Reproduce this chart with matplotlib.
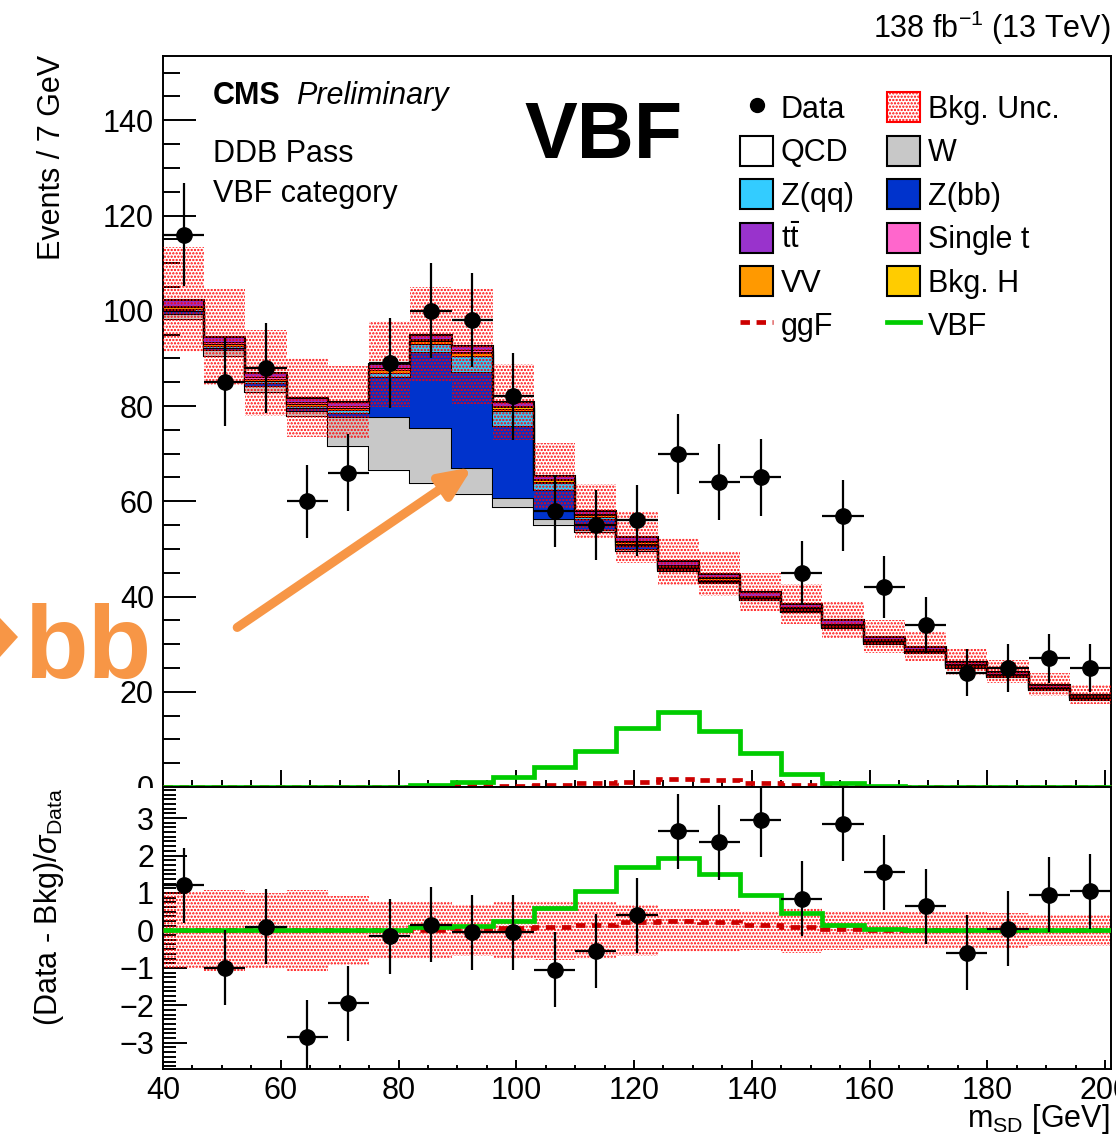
import numpy as np
import matplotlib
matplotlib.use('Agg')
import matplotlib.pyplot as plt
from matplotlib.patches import Patch, Polygon, Rectangle
from matplotlib.lines import Line2D
from matplotlib.ticker import MultipleLocator

plt.rcParams['font.family'] = ['Liberation Sans', 'DejaVu Sans']
plt.rcParams['mathtext.fontset'] = 'custom'
plt.rcParams['mathtext.rm'] = 'Liberation Sans'
plt.rcParams['mathtext.it'] = 'Liberation Sans:italic'
plt.rcParams['mathtext.bf'] = 'Liberation Sans:bold'
plt.rcParams['hatch.linewidth'] = 1.1

# %% binning: 7 GeV bins from 40 to 201
edges = np.arange(40, 202, 7)
centers = edges[:-1] + 3.5

# observed events and their errors
data = [116, 85, 88, 60, 66, 89, 100, 98, 82, 58, 55, 56, 70, 64, 65, 45, 57, 42, 34, 24, 25, 27, 25]
data_err = [10.8, 9.2, 9.4, 7.7, 8.1, 9.4, 10.0, 9.9, 9.1, 7.6, 7.4, 7.5, 8.4, 8.0, 8.1, 6.7, 7.5, 6.5, 5.8, 4.9, 5.0, 5.2, 5.0]

# background components
qcd = [98.2, 90.5, 83.0, 78.0, 71.6, 66.6, 63.8, 61.5, 58.7, 55.0, 53.5, 49.6, 45.3, 42.9, 39.2, 36.7, 33.4, 30.1, 28.2, 25.0, 23.0, 20.3, 18.3]
wjets = [1.2, 1.2, 1.2, 1.0, 6.1, 11.1, 11.6, 5.5, 1.9, 1.3, 0.5, 0.3, 0.2, 0.1, 0.1, 0.1, 0.1, 0.1, 0.1, 0.1, 0.1, 0.1, 0.1]
zbb = [0.5, 0.5, 0.6, 0.6, 0.9, 8.3, 15.9, 20.2, 15.2, 6.0, 2.3, 0.8, 0.2, 0.2, 0.2, 0.2, 0.2, 0.2, 0.2, 0.2, 0.2, 0.2, 0.2]
zqq = [0.5, 0.5, 0.5, 0.5, 0.5, 1.0, 1.7, 3.4, 3.1, 1.5, 0.3, 0.2, 0.2, 0.2, 0.2, 0.2, 0.2, 0.2, 0.2, 0.2, 0.2, 0.2, 0.2]
ttbar = [1.2, 1.1, 1.0, 0.9, 0.9, 0.9, 0.9, 0.8, 0.8, 0.7, 0.7, 0.8, 0.8, 0.8, 0.8, 0.8, 0.7, 0.6, 0.5, 0.5, 0.4, 0.4, 0.3]
singlet = [0.3, 0.3, 0.3, 0.3, 0.3, 0.3, 0.3, 0.3, 0.3, 0.2, 0.2, 0.2, 0.2, 0.2, 0.2, 0.2, 0.2, 0.2, 0.1, 0.1, 0.1, 0.1, 0.1]
vv = [0.3, 0.3, 0.3, 0.3, 0.4, 0.5, 0.6, 0.6, 0.5, 0.3, 0.2, 0.2, 0.2, 0.1, 0.1, 0.1, 0.1, 0.1, 0.1, 0.1, 0.1, 0.1, 0.1]
bkg_h = [0.1, 0.1, 0.1, 0.1, 0.1, 0.1, 0.2, 0.2, 0.3, 0.3, 0.3, 0.3, 0.3, 0.3, 0.2, 0.2, 0.1, 0.1, 0.1, 0.1, 0.1, 0.1, 0.1]
bkg_unc = [11, 10, 9, 8.3, 7.5, 9, 10, 12, 8, 7, 5.7, 5.3, 4.9, 4.6, 4.0, 4.2, 3.8, 3.4, 3.1, 2.7, 2.4, 2.4, 2.0]

# signals
vbf = [0, 0, 0, 0, 0, 0, 0.35, 1.0, 2.0, 4.3, 7.6, 12.4, 15.8, 11.8, 7.2, 2.7, 0.8, 0.3, 0.1, 0.05, 0.05, 0.05, 0.05]
ggf = [0, 0, 0, 0, 0, 0, 0.1, 0.2, 0.3, 0.4, 0.8, 1.1, 1.6, 1.4, 0.8, 0.35, 0.15, 0.05, 0.05, 0, 0, 0, 0]

# pull panel
pulls = [1.2, -1.0, 0.1, -2.85, -1.95, -0.15, 0.15, -0.05, -0.05, -1.05, -0.55, 0.4, 2.65, 2.35, 2.95, 0.85, 2.85, 1.55, 0.65, -0.6, 0.05, 0.95, 1.05]
pull_unc = [1.02, 1.07, 1.0, 1.07, 0.92, 0.77, 0.75, 0.68, 0.77, 0.78, 0.75, 0.69, 0.58, 0.57, 0.52, 0.6, 0.52, 0.5, 0.5, 0.48, 0.46, 0.42, 0.42]
vbf_pull = [0, 0, 0, 0, 0, 0, 0.08, 0.12, 0.24, 0.6, 1.05, 1.7, 1.93, 1.5, 0.94, 0.47, 0.14, 0.05, 0.02, 0.02, 0.02, 0.02, 0.02]
ggf_pull = [0, 0, 0, 0, 0, 0, 0.02, 0.05, 0.07, 0.1, 0.14, 0.22, 0.25, 0.22, 0.15, 0.08, 0.04, 0.02, 0.01, 0, 0, 0, 0]

c_green = '#00cc00'
c_ggf = '#cc0000'
c_orange = '#f79646'
unc_hatch = '.....'
ggf_ls = (0, (2, 1.4))

W, H = 1116, 1138
fig = plt.figure(figsize=(W / 100, H / 100), dpi=100)


def fx(px):
    return px / W


def fy(py):
    return 1 - py / H


ax = fig.add_axes([fx(163), fy(787), fx(1111) - fx(163), fy(56) - fy(787)])
ax2 = fig.add_axes([fx(163), fy(1069), fx(1111) - fx(163), fy(787) - fy(1069)])

# %% stacked backgrounds
layers = [
    (qcd, 'white'),
    (wjets, '#c8c8c8'),
    (zbb, '#0033cc'),
    (zqq, '#33ccff'),
    (vv, '#ff9900'),
    (bkg_h, '#ffcc00'),
    (singlet, '#ff66cc'),
    (ttbar, '#9933cc'),
]
bottom = np.zeros(len(centers))
for vals, col in layers:
    top = bottom + np.array(vals)
    ax.stairs(top, edges, baseline=bottom, fill=True, facecolor=col, lw=0)
    ax.stairs(top, edges, baseline=None, color='black', lw=1.5)
    bottom = top
total = bottom

unc = np.array(bkg_unc)
ax.stairs(total + unc, edges, baseline=total - unc, fill=True, facecolor='none',
          edgecolor='red', hatch=unc_hatch, lw=0, zorder=3)

ax.stairs(ggf, edges, baseline=None, color=c_ggf, lw=3.4, ls=ggf_ls, clip_on=False, zorder=4)
ax.stairs(vbf, edges, baseline=None, color=c_green, lw=3.4, clip_on=False, zorder=4.5)

ax.errorbar(centers, data, yerr=data_err, xerr=3.5, fmt='o', color='black', ms=11,
            elinewidth=1.6, capsize=0, zorder=10)

ax.annotate('', xy=(92.6, 67.2), xytext=(52.6, 33.5),
            arrowprops=dict(arrowstyle='-|>,head_length=0.75,head_width=0.33', color=c_orange,
                            lw=6.5, mutation_scale=25, shrinkA=0, shrinkB=0), zorder=20)

ax.set_xlim(40, 201)
ax.set_ylim(0, 153.5)
ax.xaxis.set_major_locator(MultipleLocator(20))
ax.xaxis.set_minor_locator(MultipleLocator(5))
ax.yaxis.set_major_locator(MultipleLocator(20))
ax.yaxis.set_minor_locator(MultipleLocator(5))
ax.tick_params(axis='y', which='major', direction='in', length=24, width=1.4, labelsize=22, pad=6.5)
ax.tick_params(axis='y', which='minor', direction='in', length=12, width=1.4)
ax.tick_params(axis='x', which='major', direction='in', length=12, width=1.4, labelbottom=False)
ax.tick_params(axis='x', which='minor', direction='in', length=5, width=1.4)

# %% pull panel
punc = np.array(pull_unc)
ax2.stairs(punc, edges, baseline=-punc, fill=True, facecolor='none',
           edgecolor='red', hatch=unc_hatch, lw=0, zorder=2)
ax2.stairs(ggf_pull, edges, baseline=None, color=c_ggf, lw=3.4, ls=ggf_ls, zorder=4)
ax2.stairs(vbf_pull, edges, baseline=None, color=c_green, lw=3.4, zorder=4.5)
ax2.errorbar(centers, pulls, yerr=1, xerr=3.5, fmt='o', color='black', ms=11,
             elinewidth=1.6, capsize=0, zorder=10)

ax2.set_xlim(40, 201)
ax2.set_ylim(-3.7, 3.83)
ax2.xaxis.set_major_locator(MultipleLocator(20))
ax2.xaxis.set_minor_locator(MultipleLocator(5))
ax2.yaxis.set_major_locator(MultipleLocator(1))
ax2.yaxis.set_minor_locator(MultipleLocator(0.125))
ax2.tick_params(axis='y', which='major', direction='in', length=17, width=1.4, labelsize=22, pad=6.5)
ax2.tick_params(axis='y', which='minor', direction='in', length=9, width=1.4)
ax2.tick_params(axis='x', which='major', direction='in', length=6.5, width=1.4, labelsize=22, pad=5)
ax2.tick_params(axis='x', which='minor', direction='in', length=3, width=1.4)

for a in (ax, ax2):
    for sp in a.spines.values():
        sp.set_linewidth(1.4)

# lower half of the upper "0" label sits under the pull pad
fig.patches.append(Rectangle((fx(95), fy(805)), fx(160) - fx(95), fy(787.5) - fy(805),
                             transform=fig.transFigure, facecolor='white', edgecolor='none', zorder=0.5))

# %% legend
handles = [
    Line2D([], [], marker='o', color='black', ls='none', ms=10),
    Patch(facecolor='white', edgecolor='black', lw=1.5),
    Patch(facecolor='#33ccff', edgecolor='black', lw=1.5),
    Patch(facecolor='#9933cc', edgecolor='black', lw=1.5),
    Patch(facecolor='#ff9900', edgecolor='black', lw=1.5),
    Line2D([], [], color=c_ggf, lw=3.4, ls=ggf_ls),
    Patch(facecolor='none', edgecolor='red', hatch=unc_hatch, lw=1.5),
    Patch(facecolor='#c8c8c8', edgecolor='black', lw=1.5),
    Patch(facecolor='#0033cc', edgecolor='black', lw=1.5),
    Patch(facecolor='#ff66cc', edgecolor='black', lw=1.5),
    Patch(facecolor='#ffcc00', edgecolor='black', lw=1.5),
    Line2D([], [], color=c_green, lw=3.4),
]
labels = ['Data', 'QCD', 'Z(qq)', r't$\bar{\mathrm{t}}$', 'VV', 'ggF',
          'Bkg. Unc.', 'W', 'Z(bb)', 'Single t', 'Bkg. H', 'VBF']
ax.legend(handles, labels, ncol=2, loc='upper left', bbox_to_anchor=(fx(740), fy(92)),
          bbox_transform=fig.transFigure, frameon=False, fontsize=22,
          handlelength=1.08, handleheight=1.15, handletextpad=0.25,
          columnspacing=1.1, labelspacing=0.36, borderpad=0, borderaxespad=0)

# %% texts
fig.text(fx(213), fy(104), 'CMS', fontsize=22, fontweight='bold', va='baseline')
fig.text(fx(296), fy(104), 'Preliminary', fontsize=22, style='italic', va='baseline')
fig.text(fx(213), fy(162), 'DDB Pass', fontsize=22, va='baseline')
fig.text(fx(213), fy(202), 'VBF category', fontsize=22, va='baseline')
fig.text(fx(524), fy(158), 'VBF', fontsize=57, fontweight='bold', va='baseline')
fig.text(fx(1111), fy(38), r'138 fb$^{-1}$ (13 TeV)', fontsize=22, ha='right', va='baseline')
fig.text(fx(1110), fy(1127), r'm$_{\mathrm{SD}}$ [GeV]', fontsize=22, ha='right', va='baseline')
fig.text(fx(37), fy(55), 'Events / 7 GeV', fontsize=22, rotation=90, ha='left', va='top')
fig.text(fx(32), fy(788), r'(Data - Bkg)/$\sigma_{\mathrm{Data}}$', fontsize=22, rotation=90,
         ha='left', va='top')

fig.text(fx(24), fy(678), 'bb', fontsize=75, fontweight='bold', color=c_orange, va='baseline')
fig.patches.append(Polygon([(fx(0), fy(618)), (fx(18), fy(637)), (fx(0), fy(657))],
                           closed=True, transform=fig.transFigure, facecolor=c_orange,
                           edgecolor='none'))

fig.savefig('out.png', dpi=100)
